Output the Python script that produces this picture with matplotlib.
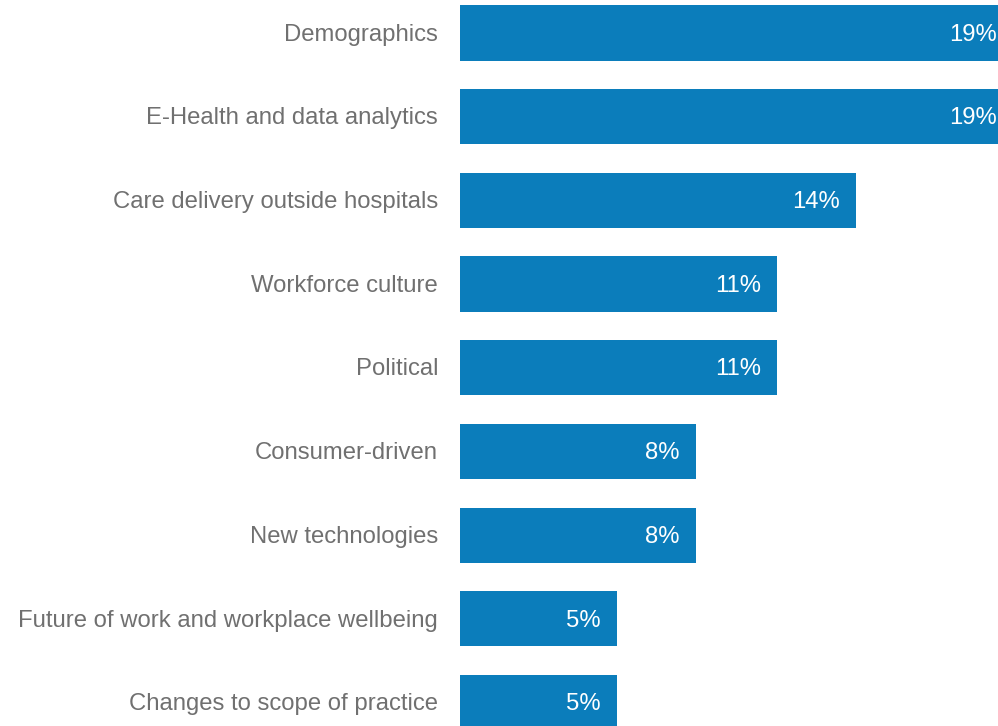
import matplotlib.pyplot as plt

categories = ["Demographics", "E-Health and data analytics", "Care delivery outside hospitals",
              "Workforce culture", "Political", "Consumer-driven", "New technologies",
              "Future of work and workplace wellbeing", "Changes to scope of practice"]
values = [19.0, 19.0, 13.6, 10.9, 10.9, 8.1, 8.1, 5.4, 5.4]
value_labels = ["19%", "19%", "14%", "11%", "11%", "8%", "8%", "5%", "5%"]

bar_color = "#0b7dbb"
text_color = "#707070"

plt.rcParams['font.family'] = ['Liberation Sans', 'DejaVu Sans']

fig = plt.figure(figsize=(9.98, 7.26), dpi=100)
ax = fig.add_axes([460 / 998, 0, 538 / 998, 1])

pos = list(range(len(categories)))
ax.barh(pos, values, height=0.66, color=bar_color)

for i in pos:
    # value label right aligned inside the bar end
    ax.annotate(value_labels[i], xy=(values[i], i), xytext=(-11.5, -1.2), textcoords="offset points",
                ha="right", va="center", color="white", fontsize=17.2, annotation_clip=False)
    ax.annotate(categories[i], xy=(0, i), xytext=(-15.8, -1.2), textcoords="offset points",
                ha="right", va="center", color=text_color, fontsize=17.2, annotation_clip=False)

ax.set_xlim(0, 18.5)
ax.set_ylim(8.28, -0.394)
ax.axis("off")

fig.savefig("out.png", dpi=100)
